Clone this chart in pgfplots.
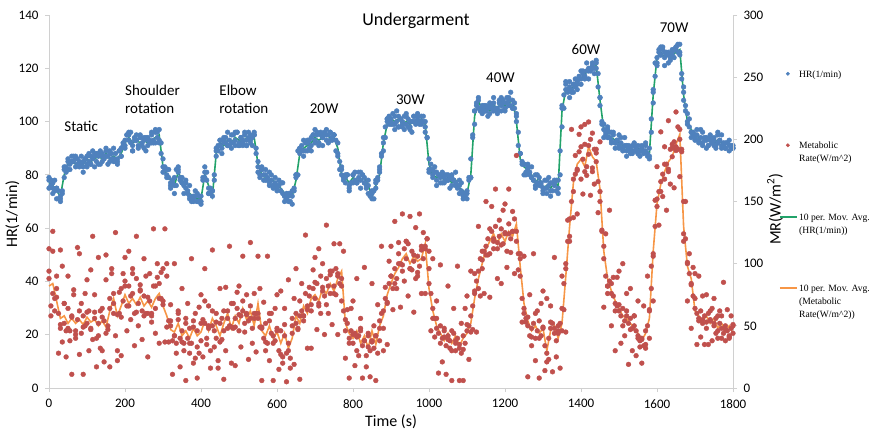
\documentclass[border=0pt]{standalone}
\usepackage{pgfplots}
\pgfplotsset{compat=1.18}
\usepackage{pgfplotstable}
\usepackage{fontspec}
\setmainfont{Carlito}
\newfontfamily\legfont{Liberation Serif}
\definecolor{hrblue}{HTML}{4F81BD}
\definecolor{mrred}{HTML}{C0504D}
\definecolor{magreen}{HTML}{22A36A}
\definecolor{maorange}{HTML}{F79646}
\definecolor{axgray}{HTML}{D0D0D0}

\pgfplotstableread{
t hr hr2 mr mr2
0 78 75 94 112
5 76 78 66 58
10 77 75 110 126
15 74 78 72 62
20 75 71 80 90
25 71 74 60 28
30 70 72 48 111
35 73 74 98 37
40 79 82 52 68
45 83 81 46 25
50 86 85 64 90
55 84 82 38 46
60 85 87 58 11
65 87 85 75 79
70 83 87 46 40
75 86 84 55 113
80 85 83 108 27
85 84 87 44 68
90 83 81 58 11
95 86 86 50 76
100 87 84 52 87
105 85 88 62 30
110 84 84 48 95
115 86 89 122 39
120 87 83 56 75
125 85 88 40 17
130 88 87 52 105
135 89 84 62 32
140 85 88 30 64
145 87 86 54 21
150 90 89 107 87
155 87 84 50 47
160 85 88 64 17
165 88 86 96 92
170 86 90 76 60
175 88 85 42 125
180 85 84 22 30
185 89 89 60 77
190 87 87 80 26
195 91 92 70 92
200 93 90 86 105
205 95 95 66 46
210 96 93 82 110
215 92 96 74 55
220 91 89 96 92
225 94 93 60 34
230 93 93 88 122
235 91 90 68 50
240 95 94 78 83
245 92 91 62 39
250 93 94 74 104
255 94 89 90 60
260 91 94 60 25
265 93 92 70 92
270 95 96 58 53
275 93 92 82 128
280 96 92 64 44
285 94 96 100 89
290 97 92 84 36
295 92 88 72 93
300 86 81 70 96
305 82 83 128 37
310 80 79 90 100
315 79 82 54 37
320 76 75 50 67
325 77 78 38 11
330 79 76 42 100
335 82 76 36 28
340 81 83 60 62
345 79 78 40 17
350 77 79 46 80
355 76 73 30 36
360 75 77 52 6
365 73 74 40 68
370 72 76 48 28
375 70 71 36 104
380 71 70 54 20
385 72 74 24 60
390 70 70 46 8
395 70 72 28 65
400 72 69 38 75
405 79 78 55 25
410 83 79 70 96
415 78 81 40 35
420 75 73 48 66
425 73 75 30 16
430 74 72 62 111
435 80 78 46 33
440 87 90 40 60
445 91 89 22 16
450 93 93 52 80
455 90 88 56 39
460 92 93 46 7
465 94 92 30 81
470 91 96 62 48
475 93 91 50 114
480 95 90 68 20
485 92 95 48 68
490 93 91 56 18
495 96 96 64 77
500 91 91 46 82
505 94 94 58 33
510 92 91 70 106
515 95 96 52 45
520 93 91 60 75
525 96 94 54 23
530 92 93 66 117
535 94 91 48 36
540 95 96 76 60
545 90 88 60 29
550 83 85 56 106
555 80 79 80 49
560 82 82 48 6
565 78 80 40 69
570 80 82 52 30
575 79 78 36 106
580 77 76 54 22
585 78 80 44 60
590 76 75 42 6
595 79 77 38 64
600 75 74 48 75
605 76 78 30 15
610 74 74 46 78
615 73 77 20 25
620 72 70 42 64
625 71 73 28 5
630 70 72 36 87
635 73 70 24 16
640 72 74 56 50
645 75 74 72 19
650 80 79 60 96
655 89 80 48 47
660 88 90 70 7
665 91 89 62 84
670 89 93 58 54
675 92 89 76 123
680 93 89 66 32
685 90 93 74 81
690 94 89 62 32
695 95 95 80 95
700 93 92 72 105
705 96 95 84 47
710 92 92 68 112
715 95 96 90 60
720 94 91 78 100
725 96 95 74 43
730 93 95 88 131
735 95 92 82 60
740 96 96 76 94
745 94 93 94 51
750 95 95 82 116
755 93 89 96 75
760 88 92 90 43
765 82 85 84 116
770 80 83 70 82
775 78 79 62 110
780 79 77 46 24
785 80 80 52 63
790 76 75 40 8
795 77 77 46 64
800 80 77 36 70
805 78 81 44 18
810 77 77 30 88
815 79 81 42 26
820 78 75 48 56
825 80 80 34 8
830 77 79 38 97
835 75 76 26 17
840 73 78 44 42
845 72 73 30 9
850 71 73 38 84
855 74 71 50 32
860 77 78 42 6
865 79 78 28 67
870 82 83 54 38
875 88 87 60 114
880 94 92 48 30
885 98 94 72 81
890 100 101 68 35
895 102 99 84 102
900 101 99 90 114
905 99 103 80 63
910 102 99 96 134
915 100 104 88 80
920 98 98 108 117
925 101 101 100 65
930 100 99 94 140
935 102 97 112 86
940 99 102 104 118
945 101 98 116 74
950 98 100 96 138
955 100 96 110 95
960 102 102 102 61
965 99 100 88 129
970 101 103 106 90
975 100 99 98 140
980 102 99 114 76
985 100 102 104 125
990 98 96 112 76
995 94 94 120 120
1000 86 82 96 110
1005 82 84 76 46
1010 80 79 64 104
1015 81 83 56 41
1020 78 76 48 70
1025 80 80 44 12
1030 79 80 50 99
1035 81 77 40 21
1040 77 80 46 48
1045 80 78 34 11
1050 78 80 42 82
1055 79 75 38 32
1060 76 79 30 6
1065 78 78 44 64
1070 77 81 36 30
1075 75 76 40 98
1080 76 73 32 6
1085 74 77 28 52
1090 73 71 42 6
1095 72 73 36 64
1100 74 71 46 74
1105 78 79 50 23
1110 86 79 58 94
1115 95 94 66 47
1120 104 99 76 92
1125 107 106 86 45
1130 109 108 94 130
1135 105 104 104 74
1140 103 106 96 110
1145 106 104 110 76
1150 104 106 114 150
1155 105 102 120 107
1160 103 106 108 73
1165 106 105 126 146
1170 107 109 118 112
1175 105 105 130 160
1180 104 103 112 88
1185 107 108 122 135
1190 106 104 128 84
1195 108 107 116 143
1200 105 104 124 148
1205 107 109 110 97
1210 109 106 132 160
1215 106 111 120 109
1220 108 105 126 142
1225 107 105 136 92
1230 103 100 118 187
1235 96 91 108 95
1240 88 88 90 108
1245 85 84 72 53
1250 84 84 64 106
1255 81 80 56 53
1260 82 84 50 9
1265 80 81 42 75
1270 79 83 48 34
1275 78 78 52 108
1280 76 75 40 22
1285 77 80 46 62
1290 79 76 54 8
1295 76 77 42 68
1300 74 73 48 78
1305 75 78 34 14
1310 73 75 28 72
1315 76 79 40 23
1320 77 72 48 66
1325 74 77 52 13
1330 76 77 44 105
1335 78 74 38 25
1340 75 78 46 50
1345 80 89 52 16
1350 98 105 64 90
1355 110 105 84 63
1360 112 114 100 45
1365 111 112 118 135
1370 113 115 136 118
1375 112 111 150 208
1380 114 111 158 137
1385 113 116 172 187
1390 115 112 176 140
1395 117 116 190 204
1400 116 114 168 210
1405 118 119 184 156
1410 117 117 196 212
1415 119 122 178 171
1420 120 116 188 214
1425 119 120 200 155
1430 121 120 174 205
1435 120 118 192 164
1440 122 123 182 192
1445 118 113 166 141
1450 106 109 150 198
1455 100 99 126 127
1460 97 99 104 65
1465 95 96 90 124
1470 94 98 82 76
1475 96 94 86 143
1480 93 92 76 50
1485 95 96 74 89
1490 92 90 68 30
1495 93 93 66 89
1500 91 90 62 94
1505 92 94 58 36
1510 90 90 64 100
1515 91 94 54 42
1520 89 87 58 76
1525 90 91 52 19
1530 88 90 56 80
1535 91 88 48 30
1540 89 91 50 58
1545 90 89 46 26
1550 88 91 42 70
1555 89 87 38 33
1560 90 91 40 20
1565 88 89 34 66
1570 89 92 46 32
1575 87 88 50 90
1580 90 86 62 40
1585 96 101 80 98
1590 112 107 106 70
1595 122 117 130 151
1600 124 122 146 178
1605 126 127 158 131
1610 125 125 166 206
1615 127 128 172 154
1620 124 121 168 194
1625 125 126 180 143
1630 126 125 176 215
1635 124 123 192 164
1640 126 127 186 196
1645 127 124 198 161
1650 128 127 194 222
1655 129 126 210 192
1660 126 129 200 170
1665 116 118 190 192
1670 108 113 150 118
1675 104 106 120 150
1680 100 99 100 70
1685 98 101 92 108
1690 96 94 84 48
1695 95 96 74 97
1700 94 93 64 92
1705 95 97 60 35
1710 93 93 56 90
1715 94 97 62 41
1720 92 91 52 74
1725 93 94 58 35
1730 94 93 48 75
1735 91 91 60 35
1740 93 95 54 62
1745 92 92 64 38
1750 94 93 50 72
1755 91 90 56 44
1760 92 95 46 40
1765 93 93 52 62
1770 91 95 58 40
1775 92 91 44 85
1780 90 90 50 38
1785 92 92 46 63
1790 91 89 42 40
1795 90 91 48 58
1800 91 90 44 50
}\scatterdata

\pgfplotstableread{
t hrma mrma hrs mrs
0 77 82 79 88
10 76 84 73 76
20 74 70 75 73
30 72 56 71 51
40 80 58 83 68
50 84 52 82 48
60 85 56 85 57
70 84 52 86 43
80 85 55 84 62
90 84 51 85 49
100 86 57 83 61
110 85 53 87 47
120 86 55 88 61
130 87 50 84 42
140 86 54 87 57
150 88 49 87 44
160 86 62 89 72
170 87 72 85 68
180 86 58 86 59
190 88 66 90 57
200 92 75 91 82
210 94 68 95 66
220 92 72 89 76
230 93 67 95 61
240 92 73 94 79
250 93 66 90 58
260 92 70 93 73
270 93 65 92 60
280 94 72 97 82
290 95 76 93 72
300 83 66 83 67
310 80 58 82 49
320 78 47 77 54
330 76 45 73 42
340 81 52 82 55
350 78 42 77 37
360 75 46 78 56
370 73 40 71 36
380 72 48 72 49
390 71 42 73 33
400 71 45 70 52
410 80 54 81 52
420 76 46 73 50
430 72 56 74 50
440 88 50 89 53
450 92 42 91 37
460 91 52 94 62
470 93 60 91 56
480 92 48 92 49
490 94 58 96 49
500 93 52 92 59
510 92 64 93 62
520 94 55 91 59
530 93 62 95 56
540 94 50 95 56
550 84 68 81 60
560 80 46 83 49
570 79 42 78 37
580 78 50 81 60
590 78 40 76 36
600 76 45 76 46
610 75 36 77 27
620 73 44 72 51
630 72 32 73 30
640 72 40 69 44
650 78 58 80 52
660 88 52 90 58
670 90 66 87 58
680 91 60 92 63
690 92 72 91 67
700 94 75 97 85
710 93 70 91 66
720 94 80 94 81
730 95 76 97 67
740 94 84 93 91
750 94 78 95 76
760 90 88 87 92
770 80 94 82 88
780 79 52 80 55
790 77 44 74 36
800 79 40 80 43
810 78 46 77 41
820 78 36 81 46
830 79 42 77 38
840 76 32 76 33
850 72 46 74 37
860 76 35 75 42
870 80 50 81 48
880 92 58 89 62
890 99 75 101 69
900 101 84 100 90
910 100 92 97 84
920 101 97 102 100
930 99 104 98 99
940 100 108 103 118
950 99 100 97 96
960 100 106 100 107
970 100 102 102 93
980 101 104 100 111
990 99 116 100 114
1000 84 80 81 84
1010 80 62 82 56
1020 79 50 81 56
1030 80 44 77 36
1040 78 38 79 41
1050 79 44 78 39
1060 77 36 80 46
1070 78 42 76 38
1080 75 34 78 35
1090 74 40 72 31
1100 73 44 73 51
1110 80 52 79 45
1120 102 72 104 78
1130 108 88 105 80
1140 104 100 105 103
1150 105 112 104 107
1160 104 118 107 128
1170 106 124 104 120
1180 105 116 105 117
1190 107 124 109 115
1200 106 118 105 125
1210 107 126 108 124
1220 108 122 105 126
1230 100 132 102 126
1240 86 98 88 104
1250 83 68 80 60
1260 82 54 83 57
1270 80 46 79 41
1280 77 50 80 60
1290 79 44 77 40
1300 75 48 75 49
1310 76 30 78 21
1320 75 46 74 53
1330 77 50 78 48
1340 76 40 73 44
1350 104 52 106 46
1360 112 90 115 96
1370 112 130 109 122
1380 113 165 114 168
1390 115 180 114 175
1400 116 184 119 194
1410 118 178 116 174
1420 119 194 119 195
1430 120 186 122 177
1440 121 182 120 189
1450 108 160 109 158
1460 97 110 94 114
1470 95 88 97 82
1480 94 78 96 84
1490 93 70 92 62
1500 92 64 95 67
1510 91 58 89 50
1520 90 56 91 62
1530 90 52 89 47
1540 89 48 92 58
1550 90 44 88 40
1560 89 38 89 39
1570 89 44 91 35
1580 88 56 87 63
1590 110 110 111 108
1600 124 148 121 152
1610 126 164 128 158
1620 124 174 126 180
1630 125 182 122 174
1640 125 186 125 193
1650 126 196 128 191
1660 127 204 125 208
1670 110 130 111 124
1680 100 98 103 101
1690 97 88 96 83
1700 95 62 95 72
1710 94 58 92 54
1720 94 54 96 55
1730 93 58 90 53
1740 93 52 94 55
1750 92 56 91 52
1760 93 48 96 58
1770 92 52 90 48
1780 92 46 92 47
1790 91 50 93 41
1800 91 44 90 51
}\madata

\newcommand\lent[1]{\vtop{#1}}

\pgfplotsset{
  dotlegend/.style={legend image code/.code={\draw[##1,mark size=1.7pt] plot coordinates {(8pt,3.5pt)};}},
  linelegend/.style={legend image code/.code={\draw[##1] (0pt,3.5pt) -- (17pt,3.5pt);}},
  common/.style={width=684pt,height=373pt,scale only axis,xmin=0,xmax=1800,clip=false,
    /pgf/number format/assume math mode=true,
    /pgf/number format/1000 sep={},
    ticklabel style={font=\fontsize{13}{15}\selectfont},
    axis line style={axgray,line width=0.8pt},
    tick style={axgray,line width=0.8pt},
    tick align=outside, major tick length=4pt},
}

\begin{document}
\begin{tikzpicture}
\useasboundingbox (-49pt,-44pt) rectangle (829pt,388pt);
\begin{axis}[common,
  ymin=0,ymax=140,ytick={0,20,...,140},
  xtick={0,200,...,1800},
  axis x line*=bottom, axis y line*=left,
  xticklabel style={yshift=-4pt},
  yticklabel style={xshift=-3pt}]
\addplot[only marks,mark=*,mark size=2.4pt,color=hrblue] table[x=t,y=hr]{\scatterdata};
\addplot[only marks,mark=*,mark size=2.4pt,color=hrblue] table[x=t,y=hr2]{\scatterdata};
\addplot[only marks,mark=*,mark size=2.4pt,color=hrblue] table[x=t,y=hrs]{\madata};
\addplot[color=magreen,line width=1.6pt] table[x=t,y=hrma]{\madata};
\node[anchor=base,inner sep=0,font=\fontsize{18}{20}\selectfont] at (axis description cs:0.5365,0.973) {Undergarment};
\node[rotate=90,inner sep=0,font=\fontsize{16}{18}\selectfont] at (axis description cs:-0.0534,0.4665) {HR(1/min)};
\node[anchor=base,inner sep=0,font=\fontsize{16}{18}\selectfont] at (axis description cs:0.5,-0.102) {Time (s)};
\begin{scope}[every node/.style={anchor=base west,inner sep=0,font=\fontsize{15}{18}\selectfont}]
\node at (axis cs:40,96.4) {Static};
\node at (axis cs:200,109.9) {Shoulder};
\node at (axis cs:200,103.1) {rotation};
\node at (axis cs:448,109.9) {Elbow};
\node at (axis cs:448,103.1) {rotation};
\node at (axis cs:686,103.1) {20W};
\node at (axis cs:913,106.5) {30W};
\node at (axis cs:1150,114.7) {40W};
\node at (axis cs:1375,125.2) {60W};
\node at (axis cs:1607,133.5) {70W};
\end{scope}
\end{axis}
\begin{axis}[common,
  ymin=0,ymax=300,ytick={0,50,...,300},
  axis y line*=right, axis x line=none,
  yticklabel style={xshift=3pt},
  legend style={at={(axis description cs:1.067,0.855)},anchor=north west,draw=none,fill=none,
    font=\legfont\fontsize{9.6}{13}\selectfont,row sep=13pt,column sep=1.5pt,
    cells={anchor=base west},nodes={text height=8pt,text depth=50.5pt,inner sep=0pt},inner sep=0pt}]
\addlegendimage{dotlegend,only marks,mark=*,color=hrblue}
\addlegendentry{\lent{\hbox{HR(1/min)}}}
\addplot[dotlegend,only marks,mark=*,mark size=2.4pt,color=mrred] table[x=t,y=mr]{\scatterdata};
\addlegendentry{\lent{\hbox{Metabolic}\hbox{Rate(W/m\textasciicircum 2)}}}
\addplot[forget plot,only marks,mark=*,mark size=2.4pt,color=mrred] table[x=t,y=mr2]{\scatterdata};
\addplot[forget plot,only marks,mark=*,mark size=2.4pt,color=mrred] table[x=t,y=mrs]{\madata};
\addlegendimage{linelegend,color=magreen,line width=1.6pt}
\addlegendentry{\lent{\hbox{10 per. Mov. Avg.}\hbox{(HR(1/min))}}}
\addplot[linelegend,color=maorange,line width=1.6pt] table[x=t,y=mrma]{\madata};
\addlegendentry{\lent{\hbox{10 per. Mov. Avg.}\hbox{(Metabolic}\hbox{Rate(W/m\textasciicircum 2))}}}
\node[rotate=90,inner sep=0,font=\fontsize{16}{18}\selectfont] at (axis description cs:1.0614,0.48) {MR(W/m\textsuperscript{2})};
\end{axis}
\end{tikzpicture}
\end{document}
